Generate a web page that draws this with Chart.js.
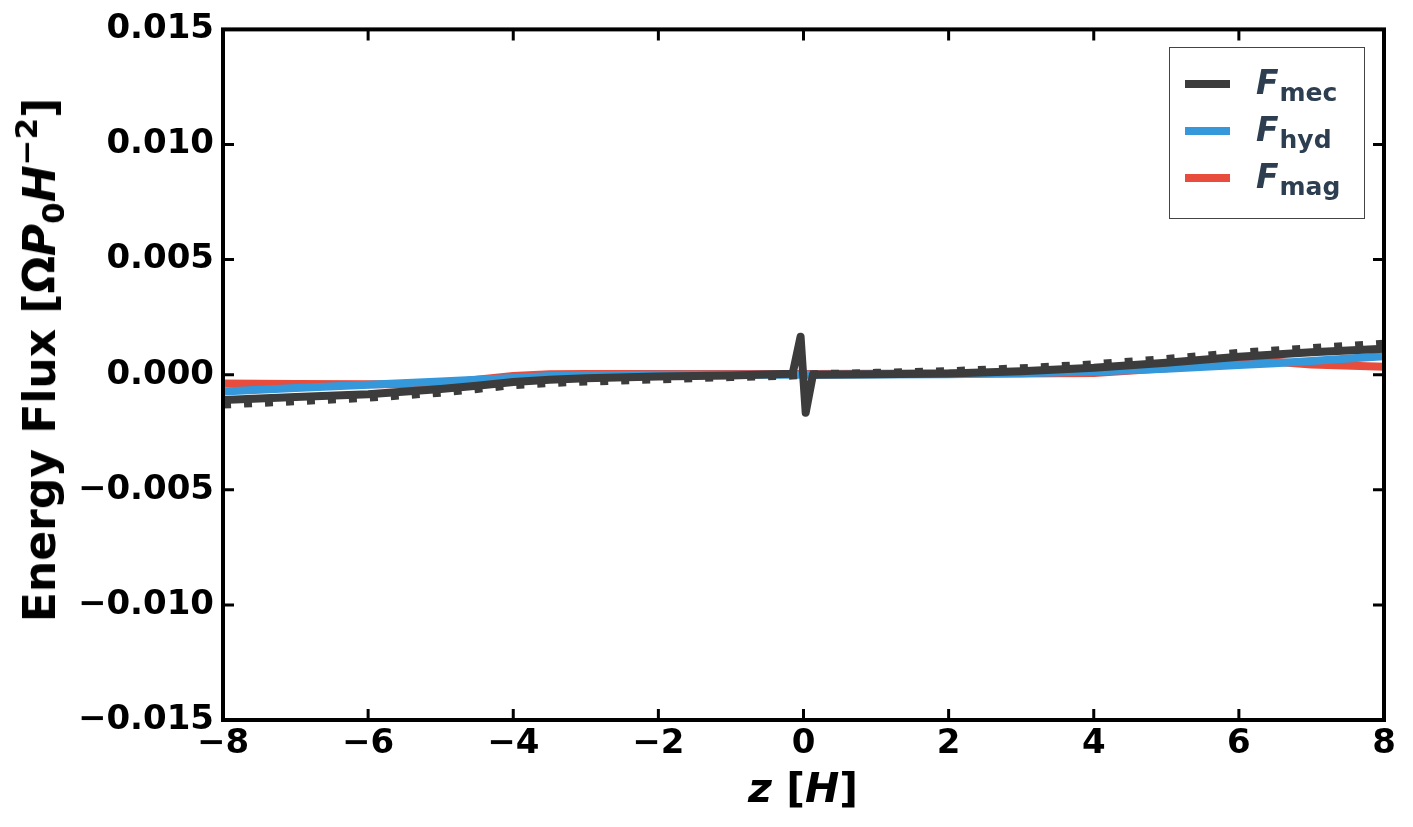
<!DOCTYPE html>
<html>
<head>
<meta charset="utf-8">
<script src="https://cdn.jsdelivr.net/npm/chart.js@4.4.0/dist/chart.umd.min.js"></script>
<style>
    html, body { margin: 0; padding: 0; background: #fff; }
    #wrap { position: relative; width: 1413px; height: 827px; font-family: "DejaVu Sans", sans-serif; color: #000; }
    #fluxChart { position: absolute; left: 0; top: 0; }
    sub, sup { line-height: 0; }
    .ytitle {
        position: absolute; left: 40px; top: 360px;
        transform: translate(-50%, -50%) rotate(-90deg);
        font-size: 44px; font-weight: bold; line-height: 44px; white-space: nowrap;
    }
    .ytitle sub { font-size: 31px; vertical-align: -9px; }
    .ytitle sup { font-size: 31px; vertical-align: 18px; }
    .xtitle {
        position: absolute; left: 803px; top: 768px;
        transform: translateX(-50%);
        font-size: 41px; font-weight: bold; line-height: 41px; white-space: nowrap;
    }
    .legend {
        position: absolute; left: 1169px; top: 47px; width: 194px; height: 170px;
        border: 1.5px solid #444; background: rgba(255, 255, 255, 0.85);
    }
    .legend .swatch { position: absolute; left: 15px; width: 45px; height: 8px; }
    .legend .label {
        position: absolute; left: 86px; font-size: 33px; line-height: 33px;
        font-weight: bold; font-style: italic; color: #2c3e50; white-space: nowrap;
    }
    .legend .label sub { font-size: 25px; font-style: normal; vertical-align: -7px; margin-left: 1px; }
</style>
</head>
<body>
<div id="wrap">
    <canvas id="fluxChart" width="1413" height="827"></canvas>
    <div class="ytitle">Energy Flux [Ω<i>P</i><sub>0</sub><i>H</i><sup>−2</sup>]</div>
    <div class="xtitle"><i>z</i> [<i>H</i>]</div>
    <div class="legend" id="legend"></div>
</div>
<script>
// z positions shared by all curves
const zValues = [-8, -7, -6, -5, -4.5, -4, -3.5, -3, -2, -1, -0.15, -0.04, 0.03, 0.13, 1, 2, 3, 4, 5, 6, 6.5, 7, 8];

// energy fluxes
const fMec = [-0.00110, -0.00097, -0.00085, -0.00062, -0.00048, -0.00032, -0.00022, -0.00015, -0.00008, -0.00003, 0.00004,
    0.00165, -0.00165, 0.0, 0.00002, 0.00005, 0.00015, 0.00030, 0.00052, 0.00078, 0.00088, 0.00098, 0.00113];
const fMecDotted = [-0.00130, -0.00115, -0.00100, -0.00078, -0.00062, -0.00045, -0.00036, -0.00030, -0.00020, -0.00010, -0.00004,
    -0.00002, 0.0, 0.00002, 0.00008, 0.00015, 0.00028, 0.00045, 0.00068, 0.00095, 0.00105, 0.00115, 0.00135];
const fHyd = [-0.00073, -0.00058, -0.00044, -0.00030, -0.00022, -0.00014, -0.00006, -0.00002, 0.0, 0.0, 0.0,
    0.0, 0.0, 0.0, 0.00001, 0.00002, 0.00006, 0.00014, 0.00026, 0.00042, 0.00050, 0.00060, 0.00080];
const fMag = [-0.00038, -0.00040, -0.00042, -0.00040, -0.00022, -0.00006, 0.00002, 0.00003, 0.00003, 0.00003, 0.00003,
    0.00003, 0.00003, 0.00003, 0.00004, 0.00005, 0.00005, 0.00007, 0.00028, 0.00058, 0.00056, 0.00044, 0.00035];

const xTicks = [-8, -6, -4, -2, 0, 2, 4, 6, 8];
const yTicks = [-0.015, -0.010, -0.005, 0.0, 0.005, 0.010, 0.015];

const legendItems = [
    { sub: "mec", color: "#3c3c3c" },
    { sub: "hyd", color: "#3498db" },
    { sub: "mag", color: "#e74c3c" }
];

function toPoints(values) {
    return zValues.map((z, i) => ({ x: z, y: values[i] }));
}

function minusSign(text) {
    return text.replace("-", "\u2212");
}

// legend box (html so the subscripts stay text)
const legendBox = document.getElementById("legend");
legendItems.forEach((item, i) => {
    const top = 36 + i * 47;
    const sw = document.createElement("div");
    sw.className = "swatch";
    sw.style.top = (top - 4) + "px";
    sw.style.background = item.color;
    legendBox.appendChild(sw);
    const lab = document.createElement("div");
    lab.className = "label";
    lab.style.top = (top - 18) + "px";
    lab.innerHTML = "F<sub>" + item.sub + "</sub>";
    legendBox.appendChild(lab);
});

// black box with inward ticks on all four sides
const framePlugin = {
    id: "frame",
    afterDraw(chart) {
        const { ctx, chartArea: a, scales } = chart;
        ctx.save();
        ctx.strokeStyle = "#000";
        ctx.lineWidth = 3;
        ctx.beginPath();
        xTicks.forEach(v => {
            const px = scales.x.getPixelForValue(v);
            ctx.moveTo(px, a.bottom); ctx.lineTo(px, a.bottom - 11);
            ctx.moveTo(px, a.top); ctx.lineTo(px, a.top + 11);
        });
        yTicks.forEach(v => {
            const py = scales.y.getPixelForValue(v);
            ctx.moveTo(a.left, py); ctx.lineTo(a.left + 11, py);
            ctx.moveTo(a.right, py); ctx.lineTo(a.right - 11, py);
        });
        ctx.stroke();
        ctx.lineWidth = 4;
        ctx.strokeRect(a.left, a.top, a.right - a.left, a.bottom - a.top);
        ctx.restore();
    }
};

const tickFont = { family: "DejaVu Sans", size: 34, weight: "bold" };

const ctx = document.getElementById("fluxChart").getContext("2d");
new Chart(ctx, {
    type: "line",
    data: {
        datasets: [
            {
                label: "F_mec",
                data: toPoints(fMec),
                borderColor: "#3c3c3c",
                borderWidth: 8,
                borderJoinStyle: "round",
                borderCapStyle: "round"
            },
            {
                label: "F_mec (dotted)",
                data: toPoints(fMecDotted),
                borderColor: "#3c3c3c",
                borderWidth: 8,
                borderDash: [8, 13],
                borderCapStyle: "butt"
            },
            {
                label: "F_hyd",
                data: toPoints(fHyd),
                borderColor: "#3498db",
                borderWidth: 8,
                borderJoinStyle: "round"
            },
            {
                label: "F_mag",
                data: toPoints(fMag),
                borderColor: "#e74c3c",
                borderWidth: 8,
                borderJoinStyle: "round"
            }
        ]
    },
    options: {
        responsive: false,
        animation: false,
        events: [],
        elements: { point: { radius: 0 }, line: { tension: 0 } },
        datasets: { line: { clip: 0 } },
        layout: { padding: { left: 0, top: 29, right: 29, bottom: 0 } },
        plugins: {
            legend: { display: false },
            tooltip: { enabled: false }
        },
        scales: {
            x: {
                type: "linear",
                min: -8,
                max: 8,
                afterFit: s => { s.height = 107; },
                afterBuildTicks: s => { s.ticks = xTicks.map(v => ({ value: v })); },
                grid: { display: false, drawTicks: false },
                border: { display: false },
                ticks: {
                    font: tickFont,
                    color: "#000",
                    padding: 4,
                    maxRotation: 0,
                    autoSkip: false,
                    callback: v => minusSign(String(v))
                }
            },
            y: {
                type: "linear",
                min: -0.015,
                max: 0.015,
                afterFit: s => { s.width = 223; },
                afterBuildTicks: s => { s.ticks = yTicks.map(v => ({ value: v })); },
                grid: { display: false, drawTicks: false },
                border: { display: false },
                ticks: {
                    font: tickFont,
                    color: "#000",
                    padding: 9,
                    autoSkip: false,
                    callback: v => minusSign(Number(v).toFixed(3))
                }
            }
        }
    },
    plugins: [framePlugin]
});
</script>
</body>
</html>
